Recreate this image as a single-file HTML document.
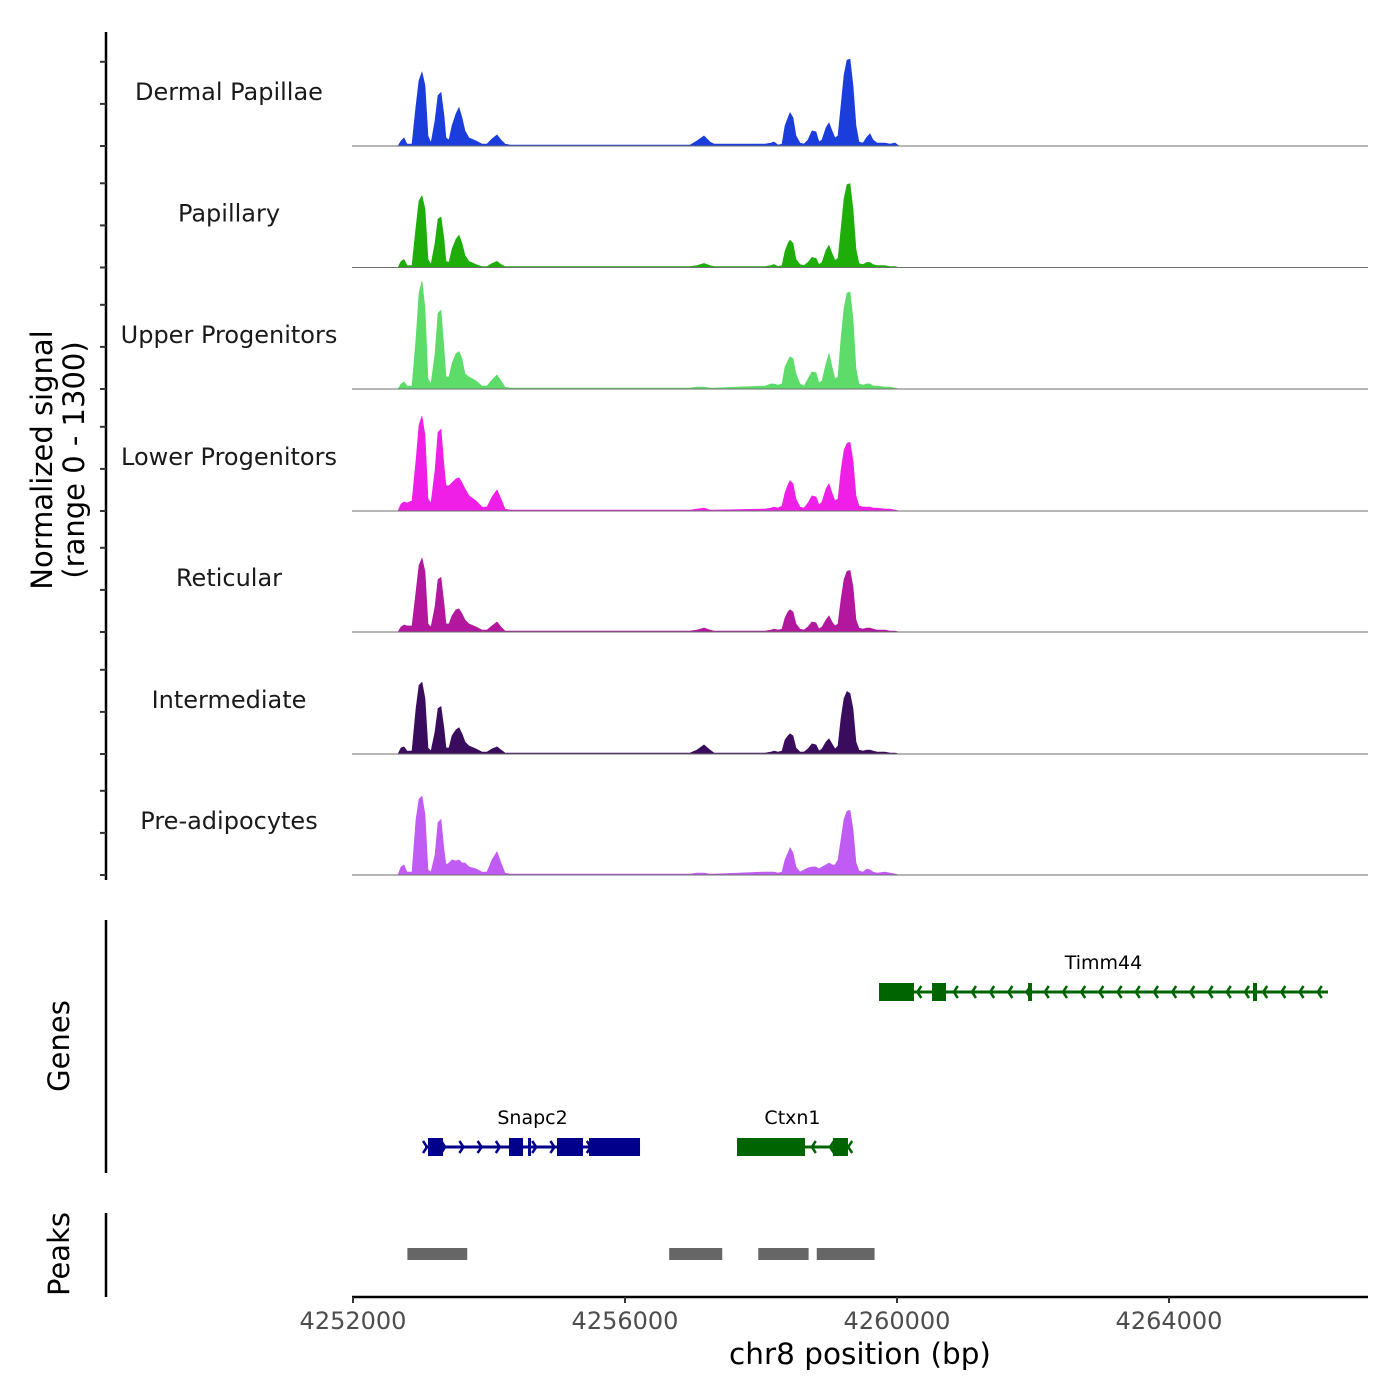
<!DOCTYPE html>
<html><head><meta charset="utf-8"><style>
html,body{margin:0;padding:0;background:#fff;}
svg{display:block;font-family:"DejaVu Sans","Liberation Sans",sans-serif;}
</style></head><body>
<svg id="chart" width="1400" height="1400" viewBox="0 0 1400 1400" xmlns="http://www.w3.org/2000/svg">
<g id="tracks"></g>
<g id="axes"></g>
<g id="genes"></g>
<g id="peaks"></g>
<text transform="translate(52,460) rotate(-90)" text-anchor="middle" font-size="29" fill="#000">Normalized signal</text>
<text transform="translate(84,460) rotate(-90)" text-anchor="middle" font-size="29" fill="#000">(range 0 - 1300)</text>
<text transform="translate(69,1046) rotate(-90)" text-anchor="middle" font-size="29" fill="#000">Genes</text>
<text transform="translate(69,1254) rotate(-90)" text-anchor="middle" font-size="29" fill="#000">Peaks</text>
<text x="860" y="1364" text-anchor="middle" font-size="29.5" fill="#000">chr8 position (bp)</text>
</svg>
<script>
const groups = ["Dermal Papillae","Papillary","Upper Progenitors","Lower Progenitors","Reticular","Intermediate","Pre-adipocytes"];
const colors = ["#1a3ddc","#1fad0a","#5ddc6a","#ef1fe8","#b2179e","#3a0c5e","#c05cf4"];
const positions = [4252000,4252662,4252706,4252750,4252794,4252868,4252926,4252971,4253015,4253059,4253103,4253147,4253206,4253250,4253294,4253338,4253368,4253412,4253456,4253515,4253559,4253603,4253647,4253706,4253809,4253897,4253971,4254044,4254118,4254176,4254235,4254309,4255632,4256956,4257059,4257162,4257250,4257309,4258059,4258147,4258191,4258250,4258309,4258353,4258397,4258426,4258471,4258515,4258574,4258632,4258691,4258750,4258809,4258853,4258897,4258956,4259000,4259044,4259088,4259132,4259176,4259221,4259265,4259309,4259353,4259397,4259441,4259500,4259559,4259603,4259647,4259706,4259824,4259897,4259971,4260029,4266926];
const dermalValues = [0,0,60,96,24,24,480,780,876,720,120,36,300,600,636,360,96,72,240,384,456,336,180,96,60,24,24,84,132,72,24,12,12,12,60,120,48,24,24,36,48,12,24,240,336,396,336,120,36,24,72,180,168,48,72,216,276,180,96,120,480,840,1020,1032,720,240,48,36,108,144,72,36,36,24,36,0,0];
const papillaryValues = [0,0,72,96,24,24,480,792,852,696,96,36,288,576,600,336,72,60,216,336,384,288,144,72,36,12,12,48,72,36,12,12,12,12,24,48,24,12,12,24,36,12,24,192,288,324,288,96,36,24,60,120,108,36,60,204,264,168,84,108,456,816,984,996,696,216,48,36,60,60,36,24,24,12,12,0,0];
const upperValues = [0,0,60,84,36,36,600,1140,1284,960,120,60,420,900,936,480,144,144,300,420,444,360,180,144,96,36,36,108,168,96,24,12,12,12,24,24,12,12,36,60,60,48,60,264,336,384,360,180,60,36,120,204,192,72,96,300,420,264,120,144,600,960,1140,1152,840,240,60,48,60,60,36,36,24,24,12,0,0];
const lowerValues = [0,0,84,108,96,120,600,1020,1128,900,144,96,480,936,972,540,300,300,336,384,396,336,264,180,120,48,48,168,252,144,24,12,12,12,24,36,12,12,24,36,48,36,60,216,312,360,324,144,48,36,96,180,168,72,108,264,324,216,120,144,480,720,804,816,600,180,60,48,48,48,36,36,24,24,12,0,0];
const reticularValues = [0,0,60,84,72,72,480,792,876,720,96,60,300,624,648,336,96,96,192,264,276,216,144,96,60,24,24,72,120,60,12,12,12,12,24,48,24,12,12,24,36,24,36,168,240,264,240,96,36,24,60,120,108,36,60,144,192,120,72,96,384,624,720,732,540,144,48,36,48,48,36,24,24,12,12,0,0];
const intermediateValues = [0,0,72,84,36,36,540,816,852,660,72,36,264,540,564,300,72,72,216,288,312,240,144,96,60,24,24,60,84,48,12,12,12,12,48,108,48,12,12,24,36,24,36,168,216,240,216,72,24,24,60,120,108,36,60,144,180,120,60,96,420,660,744,720,540,144,48,36,48,48,36,24,24,12,12,0,0];
const preadipoValues = [0,0,96,120,36,36,660,900,936,720,60,36,240,624,660,300,120,144,180,168,180,144,144,96,72,36,36,180,276,144,24,12,12,12,24,24,12,12,36,36,36,24,36,180,264,324,264,96,36,60,84,96,96,72,96,120,144,120,120,180,420,660,756,768,540,144,48,36,72,60,36,24,36,24,12,0,0];
const seriesValues = [dermalValues,papillaryValues,upperValues,lowerValues,reticularValues,intermediateValues,preadipoValues];
const xTicks = [4252000,4256000,4260000,4264000];
const xTickLabels = ["4252000","4256000","4260000","4264000"];
const yTicks = [0,500,1000];
const peakStarts = [4252800,4256650,4257960,4258820];
const peakEnds = [4253680,4257430,4258700,4259670];
const geneNames = ["Timm44","Snapc2","Ctxn1"];
const geneStarts = [4259735,4253059,4257647];
const geneEnds = [4266338,4256221,4259279];
const geneStrands = [-1,1,-1];
const geneRows = [0,1,1];
const exonGene = [0,0,0,0,1,1,1,1,1,2,2];
const exonStarts = [4259735,4260515,4261927,4265235,4253103,4254294,4254574,4255000,4255471,4257647,4259059];
const exonEnds = [4260250,4260721,4261985,4265294,4253324,4254500,4254618,4255382,4256221,4258647,4259279];

const NS='http://www.w3.org/2000/svg';
function mk(tag, attrs, parent){const e=document.createElementNS(NS,tag);for(const k in attrs)e.setAttribute(k,attrs[k]);parent.appendChild(e);return e;}
const X0=353, PXBP=272/4000;
function xScale(bp){return X0+(bp-4252000)*PXBP;}
const bases=[146,267.5,389,511,632,754,875];
function yScale(v,i){return bases[i]-v*0.0842;}

const tracks=document.getElementById('tracks');
seriesValues.forEach((vals,i)=>{
  let d='M'+xScale(positions[0])+','+bases[i];
  positions.forEach((p,j)=>{d+=' L'+xScale(p).toFixed(1)+','+yScale(vals[j],i).toFixed(1);});
  d+=' L'+xScale(positions[positions.length-1])+','+bases[i]+' Z';
  const a=mk('path',{d:d,fill:colors[i],stroke:colors[i],'stroke-width':0.6},tracks);
  
  
  const bl=mk('line',{x1:352,x2:1368,y1:bases[i],y2:bases[i],stroke:'#6e6e6e','stroke-width':1},tracks);
  
  
  const lb=mk('text',{x:229,y:bases[i]-46,'text-anchor':'middle','font-size':24,fill:'#1a1a1a'},tracks);
  lb.textContent=groups[i];
  
  
});

const axes=document.getElementById('axes');
let ax=mk('line',{x1:106,x2:106,y1:32,y2:880,stroke:'#000','stroke-width':2.5},axes);


bases.forEach((b,i)=>{yTicks.forEach(t=>{
  const tk=mk('line',{x1:100,x2:106,y1:yScale(t,i),y2:yScale(t,i),stroke:'#333','stroke-width':2},axes);
  
  
});});
let gax=mk('line',{x1:106,x2:106,y1:920,y2:1173,stroke:'#000','stroke-width':2.5},axes);


let pax=mk('line',{x1:106,x2:106,y1:1213,y2:1297,stroke:'#000','stroke-width':2.5},axes);


let xax=mk('line',{x1:352,x2:1368,y1:1297,y2:1297,stroke:'#000','stroke-width':2.5},axes);


xTicks.forEach((t,i)=>{
  const tk=mk('line',{x1:xScale(t),x2:xScale(t),y1:1297,y2:1303,stroke:'#333','stroke-width':2},axes);
  
  
  const tl=mk('text',{x:xScale(t),y:1329,'text-anchor':'middle','font-size':24,fill:'#4d4d4d'},axes);
  tl.textContent=xTickLabels[i];
  
  
});

const genes=document.getElementById('genes');
const rowY=[992,1147];
geneNames.forEach((g,i)=>{
  const y=rowY[geneRows[i]], col=geneStrands[i]>0?'#00008b':'#006400';
  const x1=xScale(geneStarts[i]), x2=xScale(geneEnds[i]);
  const ln=mk('line',{x1:x1,x2:x2,y1:y,y2:y,stroke:col,'stroke-width':3},genes);
  
  
  for(let x=x1+2;x<=x2+1;x+=18.2){
    const s=geneStrands[i];
    const ch=mk('path',{d:'M'+(x-4*s)+','+(y-6)+' L'+x+','+y+' L'+(x-4*s)+','+(y+6),stroke:col,'stroke-width':2.5,fill:'none'},genes);
    
    
  }
  const lb=mk('text',{x:(x1+x2)/2,y:y-23,'text-anchor':'middle','font-size':19,fill:'#000'},genes);
  lb.textContent=g;
  
  
});
exonStarts.forEach((s,j)=>{
  const gi=exonGene[j], y=rowY[geneRows[gi]], col=geneStrands[gi]>0?'#00008b':'#006400';
  const ex=mk('rect',{x:xScale(s),y:y-9,width:Math.max(3,xScale(exonEnds[j])-xScale(s)),height:18,fill:col},genes);
  
  
});

const peaks=document.getElementById('peaks');
peakStarts.forEach((s,i)=>{
  const r=mk('rect',{x:xScale(s),y:1248,width:xScale(peakEnds[i])-xScale(s),height:12,fill:'#666'},peaks);
  
  
});
</script>
</body></html>
